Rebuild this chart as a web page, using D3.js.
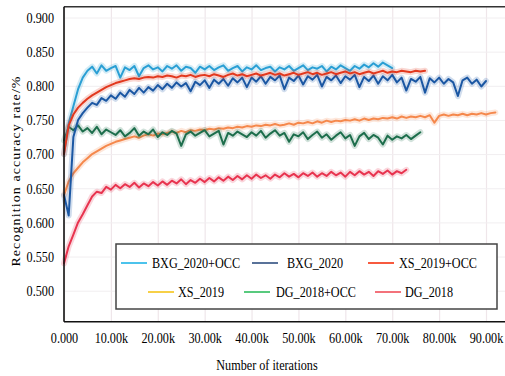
<!DOCTYPE html>
<html><head><meta charset="utf-8">
<script src="https://cdn.jsdelivr.net/npm/d3@7"></script>
<style>
body{margin:0;background:#fff}
svg{display:block}
</style>
</head><body>
<svg id="c" width="505" height="376"></svg>
<script>
// ---- data (recognition accuracy, one value per 1k iterations starting at 0) ----
const iterStep = 1000;
const seriesNames = ["BXG_2020+OCC","BXG_2020","XS_2019+OCC","XS_2019","DG_2018+OCC","DG_2018"];
const bxg2020Occ = [0.700,0.745,0.770,0.795,0.812,0.822,0.828,0.818,0.830,0.822,0.826,0.829,0.812,0.827,0.823,0.829,0.814,0.826,0.830,0.824,0.827,0.821,0.829,0.825,0.830,0.822,0.828,0.826,0.819,0.828,0.824,0.829,0.823,0.827,0.830,0.822,0.826,0.829,0.821,0.827,0.824,0.830,0.823,0.826,0.828,0.821,0.827,0.824,0.829,0.822,0.826,0.830,0.823,0.827,0.825,0.829,0.821,0.828,0.824,0.830,0.826,0.822,0.829,0.825,0.831,0.827,0.833,0.828,0.834,0.830,0.826];
const bxg2020 = [0.640,0.610,0.725,0.750,0.760,0.768,0.775,0.772,0.782,0.778,0.786,0.781,0.790,0.784,0.794,0.788,0.797,0.790,0.798,0.793,0.801,0.795,0.803,0.797,0.805,0.799,0.804,0.792,0.806,0.801,0.808,0.797,0.809,0.803,0.810,0.800,0.811,0.805,0.812,0.798,0.812,0.806,0.814,0.803,0.813,0.808,0.815,0.795,0.812,0.807,0.815,0.802,0.814,0.809,0.816,0.799,0.813,0.808,0.815,0.804,0.814,0.809,0.816,0.798,0.813,0.807,0.815,0.803,0.814,0.808,0.816,0.805,0.812,0.793,0.810,0.806,0.813,0.790,0.811,0.805,0.812,0.803,0.810,0.805,0.785,0.808,0.812,0.803,0.809,0.799,0.807];
const xs2019Occ = [0.700,0.742,0.758,0.768,0.775,0.781,0.786,0.790,0.794,0.798,0.801,0.804,0.806,0.808,0.810,0.811,0.810,0.812,0.813,0.812,0.814,0.813,0.815,0.814,0.812,0.815,0.814,0.816,0.813,0.815,0.816,0.814,0.817,0.815,0.813,0.816,0.818,0.815,0.817,0.814,0.816,0.818,0.815,0.817,0.819,0.816,0.818,0.815,0.817,0.819,0.816,0.818,0.820,0.817,0.819,0.816,0.818,0.820,0.817,0.819,0.821,0.818,0.820,0.817,0.819,0.821,0.818,0.820,0.822,0.819,0.821,0.820,0.822,0.821,0.820,0.822,0.821,0.822];
const xs2019 = [0.640,0.660,0.672,0.680,0.688,0.694,0.700,0.704,0.708,0.712,0.715,0.718,0.720,0.722,0.724,0.726,0.724,0.727,0.729,0.727,0.730,0.729,0.731,0.733,0.731,0.734,0.732,0.735,0.734,0.736,0.735,0.737,0.736,0.738,0.737,0.739,0.738,0.740,0.739,0.741,0.740,0.742,0.741,0.743,0.742,0.744,0.742,0.743,0.745,0.743,0.746,0.745,0.747,0.745,0.748,0.746,0.749,0.747,0.749,0.748,0.750,0.749,0.751,0.749,0.752,0.750,0.752,0.751,0.753,0.752,0.754,0.752,0.755,0.753,0.755,0.754,0.756,0.754,0.757,0.746,0.756,0.758,0.756,0.758,0.757,0.759,0.757,0.759,0.758,0.760,0.758,0.760,0.761];
const dg2018Occ = [0.720,0.740,0.735,0.742,0.733,0.738,0.731,0.740,0.729,0.736,0.732,0.728,0.735,0.726,0.731,0.738,0.727,0.733,0.729,0.736,0.725,0.732,0.728,0.734,0.730,0.712,0.729,0.733,0.727,0.731,0.735,0.726,0.730,0.734,0.714,0.731,0.727,0.733,0.729,0.725,0.732,0.727,0.734,0.724,0.730,0.735,0.727,0.731,0.718,0.729,0.726,0.732,0.722,0.728,0.733,0.724,0.729,0.721,0.727,0.732,0.723,0.728,0.712,0.726,0.731,0.722,0.728,0.724,0.714,0.727,0.721,0.726,0.723,0.728,0.722,0.727,0.732];
const dg2018 = [0.540,0.565,0.582,0.600,0.612,0.625,0.638,0.645,0.643,0.652,0.648,0.655,0.650,0.656,0.652,0.658,0.651,0.657,0.653,0.659,0.654,0.660,0.655,0.661,0.657,0.663,0.656,0.662,0.658,0.664,0.659,0.665,0.660,0.666,0.661,0.667,0.662,0.668,0.663,0.669,0.664,0.670,0.665,0.669,0.664,0.670,0.666,0.672,0.667,0.671,0.666,0.672,0.668,0.673,0.667,0.672,0.668,0.674,0.669,0.673,0.667,0.674,0.669,0.675,0.670,0.674,0.668,0.675,0.671,0.676,0.670,0.675,0.672,0.677];
const xTicks = [0,10000,20000,30000,40000,50000,60000,70000,80000,90000];
const xTickLabels = ["0.000","10.00k","20.00k","30.00k","40.00k","50.00k","60.00k","70.00k","80.00k","90.00k"];
const yTicks = [0.50,0.55,0.60,0.65,0.70,0.75,0.80,0.85,0.90];
const yTickLabels = ["0.500","0.550","0.600","0.650","0.700","0.750","0.800","0.850","0.900"];

// ---- styles ----
const FONT = "'Liberation Serif', 'Times New Roman', Times, serif";
const lineColors = {"BXG_2020+OCC":"#2a9fd4","BXG_2020":"#1b57a3","XS_2019+OCC":"#e2391f","XS_2019":"#f5884c","DG_2018+OCC":"#1d6e4c","DG_2018":"#e8344f"};
const legendColors = {"BXG_2020+OCC":"#1fb4e8","BXG_2020":"#2f4f7f","XS_2019+OCC":"#f5300f","XS_2019":"#f5c518","DG_2018+OCC":"#2ebd5e","DG_2018":"#f04e5a"};
const seriesData = {"BXG_2020+OCC":bxg2020Occ,"BXG_2020":bxg2020,"XS_2019+OCC":xs2019Occ,"XS_2019":xs2019,"DG_2018+OCC":dg2018Occ,"DG_2018":dg2018};
const drawOrder = ["DG_2018","XS_2019","DG_2018+OCC","BXG_2020+OCC","BXG_2020","XS_2019+OCC"];
const SX = 0.87; // horizontal condensation of glyphs

const svg = d3.select("#c");
const pL = 64, pR = 505, pT = 6.7, pB = 321.7;
const x = d3.scaleLinear().domain([0, 90000]).range([pL, 486]);
const y = d3.scaleLinear().domain([0.5, 0.9]).range([290.7, 17.5]);

// gridlines
svg.append("g").attr("transform",`translate(0,${pB})`)
  .call(d3.axisBottom(x).tickValues(xTicks).tickSize(-(pB-pT)).tickFormat(""))
  .call(g=>g.select(".domain").remove())
  .call(g=>g.selectAll("line").attr("stroke","#efe6ea").attr("stroke-width",1.2));
svg.append("g").attr("transform",`translate(${pL},0)`)
  .call(d3.axisLeft(y).tickValues(yTicks).tickSize(-(pR-pL)).tickFormat(""))
  .call(g=>g.select(".domain").remove())
  .call(g=>g.selectAll("line").attr("stroke","#f1eef0").attr("stroke-width",1));

// lines
const line = d3.line().x((d,i)=>x(i*iterStep)).y(d=>y(d)).curve(d3.curveLinear);
const plot = svg.append("g");
drawOrder.forEach(name=>{
  const data = seriesData[name];
  plot.append("path").datum(data).attr("d",line).attr("fill","none")
    .attr("stroke",lineColors[name]).attr("stroke-opacity",0.2).attr("stroke-width",6)
    .attr("stroke-linejoin","round").attr("stroke-linecap","round");
  plot.append("path").datum(data).attr("d",line).attr("fill","none")
    .attr("stroke",lineColors[name]).attr("stroke-width",2)
    .attr("stroke-linejoin","round").attr("stroke-linecap","round");
});

// frame
svg.append("line").attr("x1",pL).attr("x2",pR).attr("y1",pT).attr("y2",pT).attr("stroke","#333").attr("stroke-width",1.6);
svg.append("line").attr("x1",pL).attr("x2",pR).attr("y1",pB).attr("y2",pB).attr("stroke","#111").attr("stroke-width",1.6);
svg.append("line").attr("x1",pL).attr("x2",pL).attr("y1",pT).attr("y2",pB).attr("stroke","#111").attr("stroke-width",1.6);

// axes labels
const xAxis = svg.append("g").attr("transform",`translate(0,${pB})`)
  .call(d3.axisBottom(x).tickValues(xTicks).tickSize(0).tickPadding(0).tickFormat((d,i)=>xTickLabels[i]));
xAxis.select(".domain").remove();
xAxis.attr("font-family",FONT);
xAxis.selectAll("text").attr("y",0).attr("dy",null).attr("x",0)
  .attr("transform",`translate(0,21) scale(${SX},1)`)
  .style("font-family",FONT).style("font-size","14px").attr("fill","#000");
const yAxis = svg.append("g").attr("transform",`translate(${pL},0)`)
  .call(d3.axisLeft(y).tickValues(yTicks).tickSize(0).tickPadding(0).tickFormat((d,i)=>yTickLabels[i]));
yAxis.select(".domain").remove();
yAxis.attr("font-family",FONT);
yAxis.selectAll("text").attr("x",0).attr("dy","0.34em")
  .attr("transform",`translate(-10,0) scale(${SX},1)`)
  .style("font-family",FONT).style("font-size","14px").attr("fill","#000");

// titles
svg.append("text").attr("transform",`translate(267,370) scale(${SX},1)`).attr("text-anchor","middle")
  .style("font-family",FONT).style("font-size","14px").attr("fill","#000").text("Number of iterations");
svg.append("text").attr("transform",`translate(20,171) rotate(-90) scale(1,${SX})`).attr("text-anchor","middle")
  .style("font-family",FONT).style("font-size","14px").style("letter-spacing","1.1px").attr("fill","#000")
  .text("Recognition accuracy rate/%");

// legend
const lg = svg.append("g");
lg.append("rect").attr("x",116).attr("y",244).attr("width",381).attr("height",65)
  .attr("fill","#fff").attr("stroke","#444").attr("stroke-width",1.5);
const legendPos = [
  {name:"BXG_2020+OCC", lx:121, tx:152, y:263},
  {name:"BXG_2020",     lx:252, tx:287, y:263},
  {name:"XS_2019+OCC",  lx:368, tx:399, y:263},
  {name:"XS_2019",      lx:148, tx:178, y:292},
  {name:"DG_2018+OCC",  lx:244, tx:276, y:292},
  {name:"DG_2018",      lx:375, tx:405, y:292}
];
legendPos.forEach(p=>{
  lg.append("line").attr("x1",p.lx).attr("x2",p.lx+26).attr("y1",p.y).attr("y2",p.y)
    .attr("stroke",legendColors[p.name]).attr("stroke-width",1.6);
  lg.append("text").attr("transform",`translate(${p.tx},${p.y}) scale(${SX},1)`).attr("dy","0.35em")
    .style("font-family",FONT).style("font-size","14px").attr("fill","#000").text(p.name);
});
</script>
</body></html>
